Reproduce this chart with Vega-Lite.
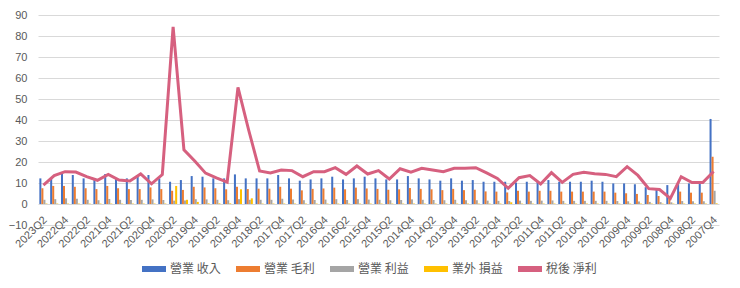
{
  "$schema": "https://vega.github.io/schema/vega-lite/v6.json",
  "width": 681,
  "height": 210,
  "autosize": {"type": "none"},
  "padding": {"left": 38, "top": 15, "right": 21, "bottom": 63},
  "background": "white",
  "config": {
    "view": {"stroke": null},
    "font": "Liberation Sans",
    "axis": {"labelColor": "#595959", "labelFont": "Liberation Sans", "labelFontSize": 11, "gridColor": "#d9d9d9", "gridWidth": 1, "domain": false, "ticks": false, "labelOverlap": false}
  },
  "data": {
    "values": [
      {"q": "2023Q2", "營業 收入": 12.2, "營業 毛利": 7.5, "營業 利益": 2.0, "業外 損益": 0.2, "稅後 淨利": 9.0},
      {"q": "2023Q1", "營業 收入": 12.5, "營業 毛利": 8.6, "營業 利益": 2.3, "業外 損益": 0.2, "稅後 淨利": 13.5},
      {"q": "2022Q4", "營業 收入": 14.3, "營業 毛利": 8.6, "營業 利益": 2.7, "業外 損益": 0.2, "稅後 淨利": 15.4},
      {"q": "2022Q3", "營業 收入": 13.8, "營業 毛利": 8.2, "營業 利益": 2.5, "業外 損益": 0.2, "稅後 淨利": 15.2},
      {"q": "2022Q2", "營業 收入": 12.2, "營業 毛利": 7.5, "營業 利益": 2.0, "業外 損益": 0.2, "稅後 淨利": 13.0},
      {"q": "2022Q1", "營業 收入": 11.4, "營業 毛利": 7.1, "營業 利益": 1.8, "業外 損益": 0.2, "稅後 淨利": 11.3},
      {"q": "2021Q4", "營業 收入": 14.3, "營業 毛利": 8.6, "營業 利益": 2.4, "業外 損益": 0.2, "稅後 淨利": 14.1},
      {"q": "2021Q3", "營業 收入": 11.9, "營業 毛利": 7.5, "營業 利益": 2.0, "業外 損益": 0.2, "稅後 淨利": 11.4},
      {"q": "2021Q2", "營業 收入": 12.2, "營業 毛利": 7.1, "營業 利益": 1.9, "業外 損益": 0.2, "稅後 淨利": 11.0},
      {"q": "2021Q1", "營業 收入": 13.0, "營業 毛利": 7.1, "營業 利益": 2.0, "業外 損益": 0.2, "稅後 淨利": 14.3},
      {"q": "2020Q4", "營業 收入": 13.8, "營業 毛利": 7.9, "營業 利益": 2.2, "業外 損益": 0.2, "稅後 淨利": 9.6},
      {"q": "2020Q3", "營業 收入": 12.2, "營業 毛利": 7.1, "營業 利益": 1.9, "業外 損益": 0.2, "稅後 淨利": 14.0},
      {"q": "2020Q2", "營業 收入": 10.6, "營業 毛利": 6.3, "營業 利益": 1.6, "業外 損益": 8.6, "稅後 淨利": 84.4},
      {"q": "2020Q1", "營業 收入": 11.4, "營業 毛利": 6.7, "營業 利益": 1.7, "業外 損益": 2.0, "稅後 淨利": 25.8},
      {"q": "2019Q4", "營業 收入": 13.3, "營業 毛利": 8.2, "營業 利益": 2.3, "業外 損益": 1.0, "稅後 淨利": 20.5},
      {"q": "2019Q3", "營業 收入": 13.0, "營業 毛利": 7.9, "營業 利益": 2.2, "業外 損益": 0.3, "稅後 淨利": 14.7},
      {"q": "2019Q2", "營業 收入": 12.2, "營業 毛利": 7.5, "營業 利益": 2.0, "業外 損益": 0.3, "稅後 淨利": 12.4},
      {"q": "2019Q1", "營業 收入": 12.2, "營業 毛利": 7.0, "營業 利益": 1.8, "業外 損益": 0.3, "稅後 淨利": 10.4},
      {"q": "2018Q4", "營業 收入": 14.1, "營業 毛利": 8.2, "營業 利益": 2.3, "業外 損益": 7.0, "稅後 淨利": 55.5},
      {"q": "2018Q3", "營業 收入": 12.2, "營業 毛利": 7.1, "營業 利益": 2.0, "業外 損益": 2.7, "稅後 淨利": 35.0},
      {"q": "2018Q2", "營業 收入": 12.2, "營業 毛利": 7.3, "營業 利益": 2.0, "業外 損益": 0.2, "稅後 淨利": 15.7},
      {"q": "2018Q1", "營業 收入": 12.2, "營業 毛利": 7.3, "營業 利益": 2.0, "業外 損益": 0.2, "稅後 淨利": 14.8},
      {"q": "2017Q4", "營業 收入": 13.8, "營業 毛利": 8.2, "營業 利益": 2.5, "業外 損益": 0.2, "稅後 淨利": 16.2},
      {"q": "2017Q3", "營業 收入": 12.2, "營業 毛利": 7.3, "營業 利益": 2.1, "業外 損益": 0.2, "稅後 淨利": 15.9},
      {"q": "2017Q2", "營業 收入": 11.1, "營業 毛利": 6.5, "營業 利益": 1.8, "業外 損益": 0.2, "稅後 淨利": 13.0},
      {"q": "2017Q1", "營業 收入": 11.7, "營業 毛利": 7.2, "營業 利益": 1.9, "業外 損益": 0.2, "稅後 淨利": 15.4},
      {"q": "2016Q4", "營業 收入": 12.2, "營業 毛利": 7.4, "營業 利益": 2.1, "業外 損益": 0.2, "稅後 淨利": 15.4},
      {"q": "2016Q3", "營業 收入": 13.0, "營業 毛利": 7.8, "營業 利益": 2.3, "業外 損益": 0.2, "稅後 淨利": 17.3},
      {"q": "2016Q2", "營業 收入": 11.7, "營業 毛利": 7.0, "營業 利益": 1.9, "業外 損益": 0.2, "稅後 淨利": 14.1},
      {"q": "2016Q1", "營業 收入": 12.2, "營業 毛利": 7.8, "營業 利益": 2.3, "業外 損益": 0.2, "稅後 淨利": 18.1},
      {"q": "2015Q4", "營業 收入": 13.0, "營業 毛利": 7.4, "營業 利益": 2.1, "業外 損益": 0.2, "稅後 淨利": 14.3},
      {"q": "2015Q3", "營業 收入": 12.2, "營業 毛利": 7.2, "營業 利益": 2.0, "業外 損益": 0.2, "稅後 淨利": 15.9},
      {"q": "2015Q2", "營業 收入": 11.7, "營業 毛利": 6.8, "營業 利益": 1.8, "業外 損益": 0.2, "稅後 淨利": 11.9},
      {"q": "2015Q1", "營業 收入": 11.7, "營業 毛利": 7.0, "營業 利益": 1.9, "業外 損益": 0.2, "稅後 淨利": 16.8},
      {"q": "2014Q4", "營業 收入": 13.3, "營業 毛利": 7.6, "營業 利益": 2.2, "業外 損益": 0.2, "稅後 淨利": 15.2},
      {"q": "2014Q3", "營業 收入": 12.2, "營業 毛利": 7.2, "營業 利益": 2.0, "業外 損益": 0.2, "稅後 淨利": 17.0},
      {"q": "2014Q2", "營業 收入": 11.7, "營業 毛利": 7.0, "營業 利益": 1.9, "業外 損益": 0.2, "稅後 淨利": 16.2},
      {"q": "2014Q1", "營業 收入": 11.1, "營業 毛利": 6.6, "營業 利益": 1.8, "業外 損益": 0.2, "稅後 淨利": 15.4},
      {"q": "2013Q4", "營業 收入": 12.2, "營業 毛利": 7.2, "營業 利益": 2.0, "業外 損益": 0.2, "稅後 淨利": 17.0},
      {"q": "2013Q3", "營業 收入": 11.1, "營業 毛利": 6.6, "營業 利益": 1.8, "業外 損益": 0.2, "稅後 淨利": 17.0},
      {"q": "2013Q2", "營業 收入": 11.4, "營業 毛利": 6.8, "營業 利益": 1.8, "業外 損益": 0.2, "稅後 淨利": 17.3},
      {"q": "2013Q1", "營業 收入": 10.6, "營業 毛利": 6.0, "營業 利益": 1.6, "業外 損益": 0.2, "稅後 淨利": 14.8},
      {"q": "2012Q4", "營業 收入": 10.6, "營業 毛利": 5.9, "營業 利益": 1.5, "業外 損益": 0.2, "稅後 淨利": 12.2},
      {"q": "2012Q3", "營業 收入": 10.6, "營業 毛利": 5.5, "營業 利益": 1.4, "業外 損益": 0.8, "稅後 淨利": 7.5},
      {"q": "2012Q2", "營業 收入": 10.2, "營業 毛利": 6.3, "營業 利益": 1.6, "業外 損益": 0.2, "稅後 淨利": 12.5},
      {"q": "2012Q1", "營業 收入": 10.6, "營業 毛利": 5.9, "營業 利益": 1.5, "業外 損益": 0.2, "稅後 淨利": 13.5},
      {"q": "2011Q4", "營業 收入": 10.6, "營業 毛利": 6.3, "營業 利益": 1.6, "業外 損益": 0.2, "稅後 淨利": 9.5},
      {"q": "2011Q3", "營業 收入": 11.4, "營業 毛利": 6.3, "營業 利益": 1.7, "業外 損益": 0.2, "稅後 淨利": 14.9},
      {"q": "2011Q2", "營業 收入": 10.6, "營業 毛利": 5.9, "營業 利益": 1.5, "業外 損益": 0.2, "稅後 淨利": 10.3},
      {"q": "2011Q1", "營業 收入": 10.6, "營業 毛利": 5.9, "營業 利益": 1.5, "業外 損益": 0.2, "稅後 淨利": 14.1},
      {"q": "2010Q4", "營業 收入": 10.6, "營業 毛利": 5.9, "營業 利益": 1.5, "業外 損益": 0.2, "稅後 淨利": 15.1},
      {"q": "2010Q3", "營業 收入": 11.1, "營業 毛利": 5.9, "營業 利益": 1.5, "業外 損益": 0.2, "稅後 淨利": 14.4},
      {"q": "2010Q2", "營業 收入": 10.6, "營業 毛利": 5.9, "營業 利益": 1.5, "業外 損益": 0.2, "稅後 淨利": 14.1},
      {"q": "2010Q1", "營業 收入": 9.8, "營業 毛利": 5.4, "營業 利益": 1.4, "業外 損益": 0.2, "稅後 淨利": 13.0},
      {"q": "2009Q4", "營業 收入": 9.8, "營業 毛利": 5.1, "營業 利益": 1.3, "業外 損益": 0.2, "稅後 淨利": 17.8},
      {"q": "2009Q3", "營業 收入": 9.4, "營業 毛利": 4.8, "營業 利益": 1.2, "業外 損益": 0.2, "稅後 淨利": 13.6},
      {"q": "2009Q2", "營業 收入": 8.0, "營業 毛利": 4.3, "營業 利益": 1.0, "業外 損益": 0.2, "稅後 淨利": 7.3},
      {"q": "2009Q1", "營業 收入": 7.0, "營業 毛利": 3.8, "營業 利益": 0.9, "業外 損益": 0.2, "稅後 淨利": 6.9},
      {"q": "2008Q4", "營業 收入": 9.0, "營業 毛利": 3.5, "營業 利益": 0.8, "業外 損益": 0.2, "稅後 淨利": 2.7},
      {"q": "2008Q3", "營業 收入": 9.8, "營業 毛利": 5.9, "營業 利益": 1.4, "業外 損益": 0.2, "稅後 淨利": 13.0},
      {"q": "2008Q2", "營業 收入": 9.8, "營業 毛利": 5.4, "營業 利益": 1.3, "業外 損益": 0.2, "稅後 淨利": 10.2},
      {"q": "2008Q1", "營業 收入": 9.8, "營業 毛利": 5.4, "營業 利益": 1.3, "業外 損益": 0.2, "稅後 淨利": 10.2},
      {"q": "2007Q4", "營業 收入": 40.5, "營業 毛利": 22.5, "營業 利益": 6.3, "業外 損益": 0.3, "稅後 淨利": 15.5}
    ]
  },
  "encoding": {
    "x": {
      "field": "q", "type": "nominal", "sort": null, "title": null,
      "scale": {"paddingInner": 0.25, "paddingOuter": 0.125},
      "axis": {
        "labelAngle": -45, "labelAlign": "right", "labelBaseline": "middle", "labelPadding": -7, "labelOffset": 2, "grid": false,
        "values": ["2023Q2","2022Q4","2022Q2","2021Q4","2021Q2","2020Q4","2020Q2","2019Q4","2019Q2","2018Q4","2018Q2","2017Q4","2017Q2","2016Q4","2016Q2","2015Q4","2015Q2","2014Q4","2014Q2","2013Q4","2013Q2","2012Q4","2012Q2","2011Q4","2011Q2","2010Q4","2010Q2","2009Q4","2009Q2","2008Q4","2008Q2","2007Q4"]
      }
    }
  },
  "layer": [
    {
      "transform": [{"fold": ["營業 收入", "營業 毛利", "營業 利益", "業外 損益"], "as": ["series", "value"]}],
      "mark": {"type": "bar"},
      "encoding": {
        "xOffset": {"field": "series", "type": "nominal", "sort": ["營業 收入", "營業 毛利", "營業 利益", "業外 損益"], "scale": {"paddingInner": 0, "paddingOuter": 0}},
        "y": {
          "field": "value", "type": "quantitative", "title": null,
          "scale": {"domain": [-10, 90], "nice": false},
          "axis": {"values": [-10, 0, 10, 20, 30, 40, 50, 60, 70, 80, 90], "labelPadding": 11, "grid": true, "labelOverlap": false, "labelFlush": false}
        },
        "color": {
          "field": "series", "type": "nominal",
          "scale": {"domain": ["營業 收入", "營業 毛利", "營業 利益", "業外 損益", "稅後 淨利"], "range": ["#4472C4", "#ED7D31", "#A5A5A5", "#FFC000", "#D6607F"]},
          "legend": {
            "orient": "none", "legendX": 104, "legendY": 242, "direction": "horizontal", "title": null,
            "symbolType": "M-1,-0.25H1V0.25H-1Z", "symbolSize": 576, "symbolStrokeWidth": 0,
            "labelFont": "Noto Sans CJK TC", "labelFontSize": 12, "labelColor": "#595959",
            "labelOffset": 4, "columnPadding": 15
          }
        }
      }
    },
    {
      "mark": {"type": "line", "strokeWidth": 3, "color": "#D6607F"},
      "encoding": {
        "y": {
          "field": "稅後 淨利", "type": "quantitative", "title": null,
          "axis": {"values": [-10, 0, 10, 20, 30, 40, 50, 60, 70, 80, 90], "labelPadding": 11, "grid": true, "labelOverlap": false, "labelFlush": false}
        },
        "color": {"datum": "稅後 淨利"}
      }
    }
  ]
}
